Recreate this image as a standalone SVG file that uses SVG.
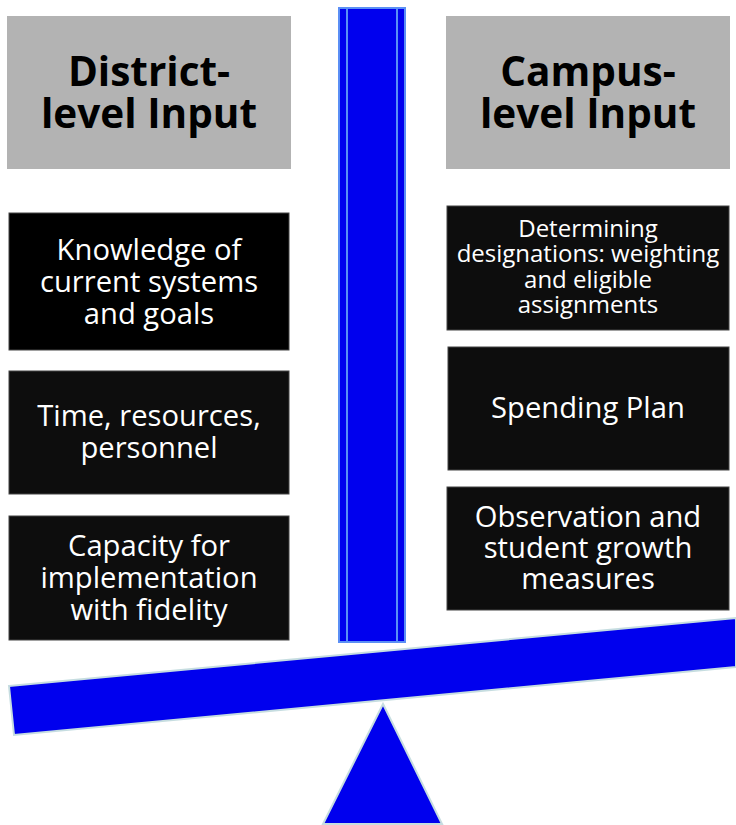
<svg xmlns="http://www.w3.org/2000/svg" width="736" height="825" viewBox="0 0 736 825">
<style>
.hdr{fill:#b3b3b3}
.box{fill:#0d0d0d;stroke:#444;stroke-width:1}
.ht{font-family:"Open Sans","Noto Sans",sans-serif;font-weight:bold;font-size:40.5px;fill:#000;text-anchor:middle}
.bt{font-family:"Open Sans","Noto Sans",sans-serif;font-size:29.2px;fill:#fff;text-anchor:middle}
.bs{font-family:"Open Sans","Noto Sans",sans-serif;font-size:24px;fill:#fff;text-anchor:middle}
.blue{fill:#0000ee}
</style>
<g id="pillar">
<rect x="339" y="8" width="66" height="634" class="blue" stroke="#5b8ff5" stroke-width="2"/>
<line x1="347" y1="8" x2="347" y2="642" stroke="#5b8ff5" stroke-width="2"/>
<line x1="397" y1="8" x2="397" y2="642" stroke="#5b8ff5" stroke-width="2"/>
</g>
<g id="beam">
<polygon points="9,686 736,618 736,667 14,735" class="blue" stroke="#c6dde0" stroke-width="2"/>
</g>
<g id="fulcrum">
<polygon points="383,704 442,824 323,824" class="blue" stroke="#c6dde0" stroke-width="2"/>
</g>
<g id="district-header">
<rect x="7" y="16" width="284" height="153" class="hdr"/>
<text class="ht" x="149" y="86">District-</text>
<text class="ht" x="149" y="128">level Input</text>
</g>
<g id="campus-header">
<rect x="446" y="16" width="284" height="153" class="hdr"/>
<text class="ht" x="588" y="86">Campus-</text>
<text class="ht" x="588" y="128">level Input</text>
</g>
<g id="d1">
<rect x="9" y="213" width="280" height="137" class="box" style="fill:#000"/>
<text class="bt" x="149" y="260">Knowledge of</text>
<text class="bt" x="149" y="292">current systems</text>
<text class="bt" x="149" y="324">and goals</text>
</g>
<g id="d2">
<rect x="9" y="371" width="280" height="123" class="box"/>
<text class="bt" x="149" y="426">Time, resources,</text>
<text class="bt" x="149" y="458">personnel</text>
</g>
<g id="d3">
<rect x="9" y="516" width="280" height="124" class="box"/>
<text class="bt" x="149" y="556">Capacity for</text>
<text class="bt" x="149" y="588">implementation</text>
<text class="bt" x="149" y="620">with fidelity</text>
</g>
<g id="c1">
<rect x="447" y="206" width="282" height="124" class="box"/>
<text class="bs" x="588" y="237">Determining</text>
<text class="bs" x="588" y="262">designations: weighting</text>
<text class="bs" x="588" y="288">and eligible</text>
<text class="bs" x="588" y="313">assignments</text>
</g>
<g id="c2">
<rect x="448" y="347" width="281" height="123" class="box"/>
<text class="bt" x="588" y="418">Spending Plan</text>
</g>
<g id="c3">
<rect x="447" y="487" width="282" height="123" class="box"/>
<text class="bt" x="588" y="527">Observation and</text>
<text class="bt" x="588" y="558">student growth</text>
<text class="bt" x="588" y="589">measures</text>
</g>
<g id="connectors"></g>
</svg>
